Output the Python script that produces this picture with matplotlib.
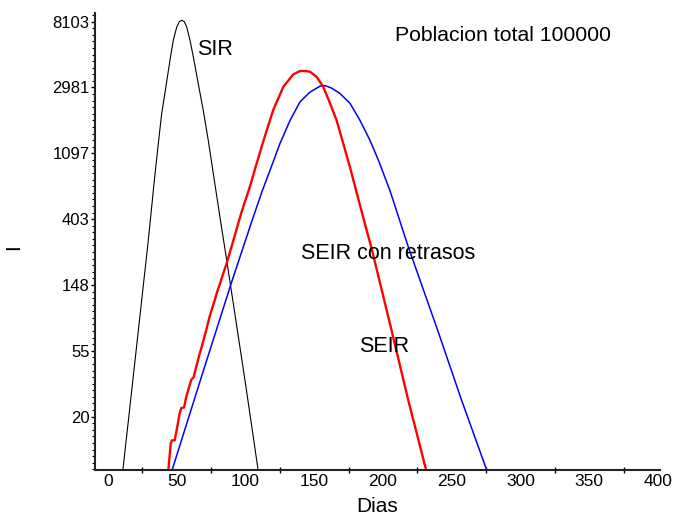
import numpy as np
import matplotlib.pyplot as plt
from matplotlib.ticker import FixedLocator, NullFormatter

plt.rcParams['font.family'] = ['Liberation Sans', 'DejaVu Sans']

# values are ln(I); plotted as I on a log axis
# SIR
sir_dias = [9.8, 20, 29.3, 34, 36.6, 39, 41.5, 45.1, 47.5, 50.0, 51.9, 53.6, 55.5,
            57.2, 59.6, 62.0, 65.7, 69.3, 72.9, 76.6, 81.5, 86.3, 92, 100, 110.5]
sir_lnI = [2.0, 3.92, 5.68, 6.65, 7.15, 7.60, 7.93, 8.42, 8.72, 8.92, 9.00, 9.02,
           9.00, 8.92, 8.72, 8.47, 8.05, 7.65, 7.20, 6.69, 6.02, 5.38, 4.6, 3.5, 2.0]

# SEIR
seir_dias = [44.5, 70, 90, 104, 112, 117.8, 125.1, 132.4, 139.6, 146.9, 154.2,
             157.8, 162.7, 168.7, 176, 183.3, 190.5, 196.6, 205, 218.4, 240,
             257.2, 277]
seir_lnI = [2.05, 3.74, 5.05, 5.93, 6.42, 6.74, 7.15, 7.50, 7.78, 7.93, 8.02,
            8.03, 7.99, 7.91, 7.76, 7.50, 7.20, 6.90, 6.44, 5.58, 4.3,
            3.25, 2.1]

# SEIR con retrasos
ret_dias = [43.5, 45.6, 46.5, 48.5, 50.4, 52.1, 53.3, 55.3, 56.9, 59.4, 60.6, 62.3,
            64.2, 66.7, 67.9, 71.5, 73.9, 77.6, 79, 86.3, 91.2, 97, 103.3, 106.9,
            112.9, 120.2, 127.5, 134.8, 139.6, 143.3, 146.9, 151.8, 156.6, 161.5,
            166.3, 171.1, 176, 185.7, 191.8, 205, 218.4, 232.5]
ret_lnI = [2.1, 2.59, 2.64, 2.64, 2.85, 3.05, 3.13, 3.14, 3.30, 3.48, 3.56, 3.60,
           3.76, 3.96, 4.04, 4.32, 4.52, 4.77, 4.87, 5.33, 5.68, 6.1, 6.5, 6.76,
           7.18, 7.66, 8.01, 8.20, 8.25, 8.25, 8.24, 8.16, 8.01, 7.76,
           7.50, 7.15, 6.79, 6.02, 5.55, 4.42, 3.25, 2.1]

x_ticks = [0, 50, 100, 150, 200, 250, 300, 350, 400]
y_tick_labels = ['20', '55', '148', '403', '1097', '2981', '8103']
y_tick_exps = [3, 4, 5, 6, 7, 8, 9]

fig = plt.figure(figsize=(6.75, 5.18), dpi=100)
ax = fig.add_axes([0.1407, 0.0927, 0.837, 0.882])

ax.plot(sir_dias, np.exp(sir_lnI), color='black', lw=0.8)
ax.plot(seir_dias, np.exp(seir_lnI), color='blue', lw=1.1)
ax.plot(ret_dias, np.exp(ret_lnI), color='red', lw=1.7)

ax.set_yscale('log')
ax.set_xlim(-9.5, 401.5)
ax.set_ylim(np.exp(2.19), np.exp(9.13))

ax.yaxis.set_major_locator(FixedLocator(np.exp(y_tick_exps)))
ax.set_yticklabels(y_tick_labels)
ax.yaxis.set_minor_locator(FixedLocator(np.exp(np.arange(2.2, 9.15, 0.1))))
ax.yaxis.set_minor_formatter(NullFormatter())
ax.tick_params(axis='y', which='major', length=3, width=1, pad=1, labelsize=12)
ax.tick_params(axis='y', which='minor', length=2, width=0.8)

ax.set_xticks(x_ticks)
ax.set_xticks([25, 75, 125, 175, 225, 275, 325, 375], minor=True)
ax.tick_params(axis='x', which='major', length=0, pad=3, labelsize=12.5)
ax.tick_params(axis='x', which='minor', direction='inout', length=5, width=1)

for s in ['top', 'right']:
    ax.spines[s].set_visible(False)
for s in ['left', 'bottom']:
    ax.spines[s].set_linewidth(1.5)
    ax.spines[s].set_color('#222222')

ax.text(64.7, np.exp(8.57), 'SIR', fontsize=15.5, ha='left', va='center')
ax.text(287.3, np.exp(8.79), 'Poblacion total 100000', fontsize=15.3, ha='center', va='center')
ax.text(204, np.exp(5.48), 'SEIR con retrasos', fontsize=15.5, ha='center', va='center')
ax.text(201, np.exp(4.06), 'SEIR', fontsize=15.5, ha='center', va='center')

fig.text(14 / 675, 1 - 247 / 518, 'I', fontsize=15, rotation=90, ha='center', va='center')
fig.text(377 / 675, 1 - 507 / 518, 'Dias', fontsize=15, ha='center', va='center')

fig.savefig('out.png', dpi=100)
